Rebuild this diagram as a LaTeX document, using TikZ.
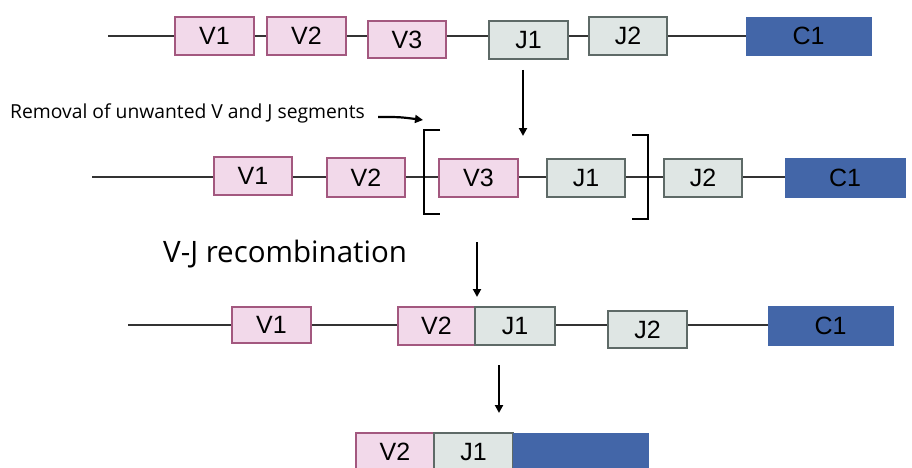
\documentclass[tikz,border=0pt]{standalone}
\usepackage{fontspec}
\setmainfont{Liberation Sans}
\newfontfamily\notefont{Open Sans}
\usetikzlibrary{arrows.meta}
\definecolor{vfill}{HTML}{F2D9EA}
\definecolor{vdraw}{HTML}{A3587F}
\definecolor{jfill}{HTML}{DFE6E4}
\definecolor{jdraw}{HTML}{5E6A67}
\definecolor{cfill}{HTML}{4366A8}
\definecolor{linec}{HTML}{333333}
\tikzset{
  seg/.style={draw, line width=1.8pt, inner sep=0pt, font=\fontsize{25}{25}\selectfont, text=black, minimum height=38pt},
  vseg/.style={seg, fill=vfill, draw=vdraw, minimum width=78pt},
  jseg/.style={seg, fill=jfill, draw=jdraw, minimum width=78pt},
  cseg/.style={seg, fill=cfill, draw=cfill, line width=0.4pt},
  backbone/.style={draw=linec, line width=2.2pt},
  downarrow/.style={draw=black, line width=2.2pt, -{Triangle[length=8pt,width=8pt]}},
  bracket/.style={draw=black, line width=2.2pt},
  note/.style={font=\notefont\fontsize{19.3}{20}\selectfont, inner sep=0pt, anchor=base west}
}
\begin{document}
\begin{tikzpicture}[x=1pt,y=-1pt]
\useasboundingbox (0,0) rectangle (912,468);
\clip (0,0) rectangle (912,468);
% Row 1
\coordinate (a0) at (108,36);
\node[vseg, minimum width=79pt] (a1) at (214.5,36) {V1};
\node[vseg, minimum width=79pt] (a2) at (306.5,36) {V2};
\node[vseg, minimum height=37pt] (a3) at (407,39.5) {V3};
\node[jseg, minimum width=79pt] (a4) at (528.5,40) {J1};
\node[jseg] (a5) at (628,36) {J2};
\node[cseg, minimum width=125pt] (a6) at (808.5,36) {C1};
\draw[backbone] (a0) -- (a1.west);
\draw[backbone] (a1.east) -- (a2.west);
\draw[backbone] (a2.east) -- (a2.east -| a3.west);
\draw[backbone] (a3.east |- a2.east) -- (a2.east -| a4.west);
\draw[backbone] (a4.east |- a2.east) -- (a5.west);
\draw[backbone] (a5.east) -- (a6.west);
% arrow 1
\coordinate (r1a) at (523,70);
\coordinate (r1b) at (523,136);
\draw[downarrow] (r1a) -- (r1b);
% note
\node[note] (n1) at (10,118) {Removal of unwanted V and J segments};
\coordinate (n1a) at (378,117);
\coordinate (n1b) at (423,120);
\draw[draw=black, line width=2.2pt, -{Triangle[length=8pt,width=8pt]}] (n1a) .. controls (400,117) .. (n1b);
% Row 2
\coordinate (b0) at (92,177);
\node[vseg] (b1) at (253,176) {V1};
\node[vseg, minimum height=39pt] (b2) at (366,177.5) {V2};
\node[vseg, minimum width=79pt] (b3) at (478.5,178) {V3};
\node[jseg] (b4) at (586,178) {J1};
\node[jseg] (b5) at (703,178) {J2};
\node[cseg, minimum width=120pt, minimum height=39pt] (b6) at (845,177.5) {C1};
\draw[backbone] (b0) -- (b0 -| b1.west);
\draw[backbone] (b1.east |- b0) -- (b0 -| b2.west);
\draw[backbone] (b2.east |- b0) -- (b0 -| b3.west);
\draw[backbone] (b3.east |- b0) -- (b0 -| b4.west);
\draw[backbone] (b4.east |- b0) -- (b0 -| b5.west);
\draw[backbone] (b5.east |- b0) -- (b0 -| b6.west);
% brackets
\coordinate (lb1) at (440,130);
\coordinate (lb2) at (424,130);
\coordinate (lb3) at (424,214);
\coordinate (lb4) at (440,214);
\draw[bracket] (lb1) -- (lb2) -- (lb3) -- (lb4);
\coordinate (rb1) at (632,135);
\coordinate (rb2) at (648,135);
\coordinate (rb3) at (648,219);
\coordinate (rb4) at (632,219);
\draw[bracket] (rb1) -- (rb2) -- (rb3) -- (rb4);
% V-J recombination
\node[font=\notefont\fontsize{29.5}{30}\selectfont, inner sep=0pt, anchor=base west] (n2) at (163,262) {V-J recombination};
\coordinate (r2a) at (477,242);
\coordinate (r2b) at (477,297);
\draw[downarrow] (r2a) -- (r2b);
% Row 3
\coordinate (c0) at (128,325);
\node[vseg, minimum width=79pt, minimum height=36pt] (c1) at (271.5,325) {V1};
\node[vseg, minimum width=77pt] (c2) at (436.5,326) {V2};
\node[jseg, minimum width=80pt] (c3) at (515,326) {J1};
\node[jseg, minimum width=79pt, minimum height=37pt] (c4) at (647.5,329.5) {J2};
\node[cseg, minimum width=125pt, minimum height=39pt] (c5) at (830.5,325.5) {C1};
\draw[backbone] (c0) -- (c1.west);
\draw[backbone] (c1.east) -- (c0 -| c2.west);
\draw[backbone] (c3.east |- c0) -- (c0 -| c4.west);
\draw[backbone] (c4.east |- c0) -- (c0 -| c5.west);
% arrow 3
\coordinate (r3a) at (499,365);
\coordinate (r3b) at (499,413);
\draw[downarrow] (r3a) -- (r3b);
% Row 4
\node[vseg] (d1) at (395,452) {V2};
\node[jseg, minimum width=79pt] (d2) at (473.5,452) {J1};
\node[cseg, minimum width=135pt] (d3) at (580.5,452) {};
\end{tikzpicture}
\end{document}
